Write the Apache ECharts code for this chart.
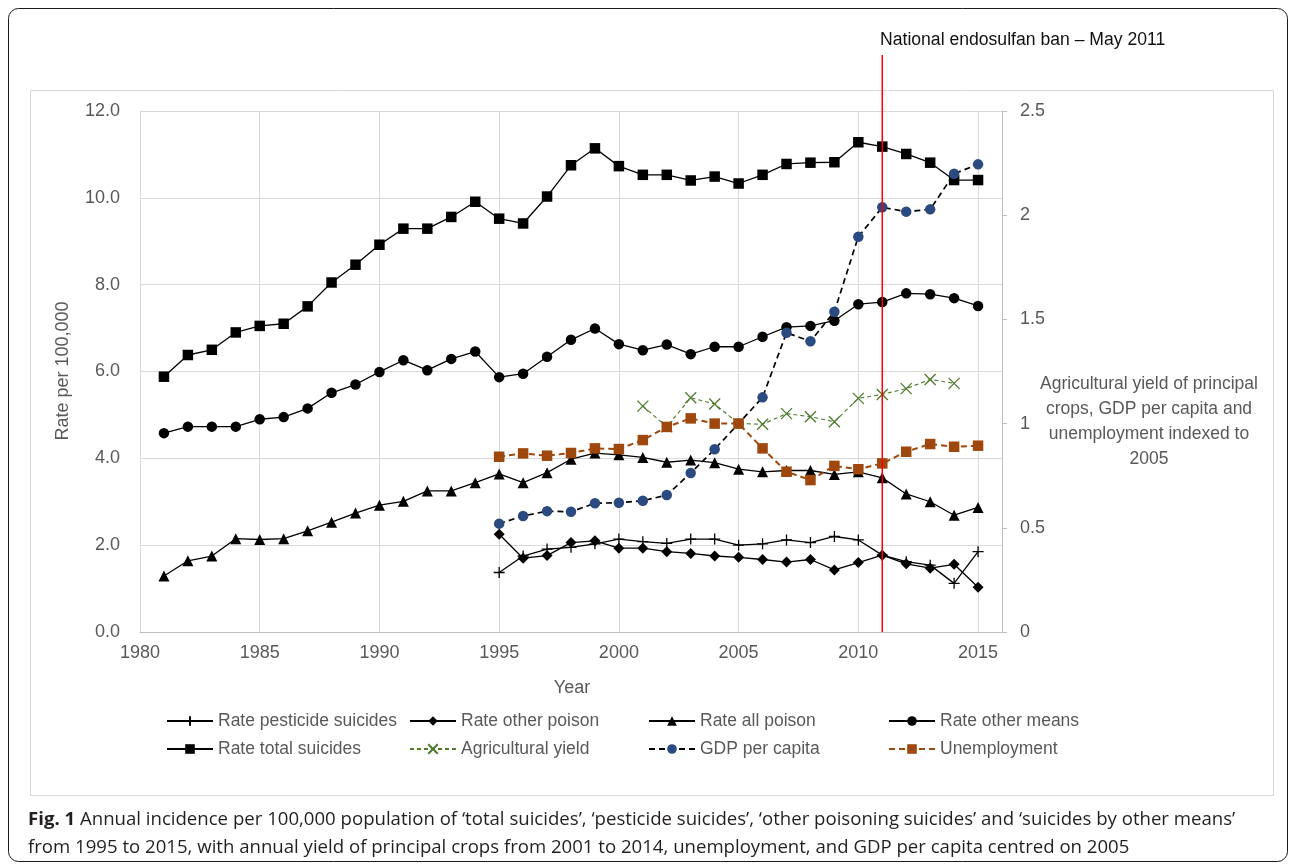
<!DOCTYPE html>
<html><head><meta charset="utf-8">
<script src="https://cdn.jsdelivr.net/npm/echarts@6/dist/echarts.min.js"></script>
<style>html,body{margin:0;padding:0;background:#fff}#c{width:1290px;height:864px}</style>
</head><body><div id="c"></div>
<script>
// ---------- data ----------
const yearsLong = [1981,1982,1983,1984,1985,1986,1987,1988,1989,1990,1991,1992,1993,1994,1995,1996,1997,1998,1999,2000,2001,2002,2003,2004,2005,2006,2007,2008,2009,2010,2011,2012,2013,2014,2015];
const yearsShort = [1995,1996,1997,1998,1999,2000,2001,2002,2003,2004,2005,2006,2007,2008,2009,2010,2011,2012,2013,2014,2015];
const yearsAgri = [2001,2002,2003,2004,2005,2006,2007,2008,2009,2010,2011,2012,2013,2014];

const rateTotal = [5.88,6.38,6.5,6.9,7.05,7.1,7.5,8.05,8.46,8.92,9.29,9.29,9.56,9.91,9.52,9.41,10.03,10.75,11.14,10.73,10.53,10.53,10.4,10.49,10.33,10.53,10.78,10.81,10.82,11.28,11.18,11.01,10.81,10.41,10.41];
const rateOtherMeans = [4.58,4.73,4.73,4.73,4.9,4.95,5.15,5.51,5.7,5.99,6.26,6.03,6.29,6.46,5.87,5.95,6.34,6.73,6.99,6.63,6.49,6.62,6.4,6.57,6.57,6.8,7.02,7.05,7.17,7.55,7.6,7.8,7.78,7.69,7.51];
const rateAllPoison = [1.29,1.64,1.75,2.15,2.13,2.15,2.33,2.53,2.74,2.92,3.01,3.25,3.25,3.44,3.64,3.44,3.67,3.98,4.12,4.08,4.02,3.91,3.96,3.9,3.75,3.69,3.72,3.72,3.63,3.69,3.55,3.18,3.0,2.69,2.87];
const ratePesticide = [1.37,1.75,1.91,1.95,2.03,2.14,2.08,2.04,2.14,2.14,2.0,2.03,2.12,2.06,2.2,2.12,1.77,1.62,1.54,1.12,1.85];
const rateOtherPoison = [2.25,1.7,1.76,2.06,2.1,1.93,1.93,1.85,1.81,1.75,1.72,1.67,1.61,1.67,1.43,1.6,1.77,1.57,1.47,1.56,1.03];
const gdpIndex = [0.52,0.557,0.58,0.577,0.618,0.62,0.63,0.657,0.763,0.877,1.0,1.126,1.436,1.395,1.537,1.897,2.038,2.017,2.028,2.199,2.244];
const unemploymentIndex = [0.841,0.857,0.846,0.859,0.881,0.878,0.921,0.984,1.025,1.0,1.0,0.881,0.769,0.729,0.797,0.781,0.809,0.865,0.902,0.889,0.894];
const agriYield = [1.084,0.985,1.124,1.094,1.0,0.997,1.048,1.033,1.009,1.121,1.14,1.168,1.212,1.193];
const banYear = 2011;

const seriesNames = ['Rate pesticide suicides','Rate other poison','Rate all poison','Rate other means','Rate total suicides','Agricultural yield','GDP per capita','Unemployment'];
const banLabel = 'National endosulfan ban \u2013 May 2011';
const leftTitle = 'Rate per 100,000';
const rightTitle = 'Agricultural yield of principal\ncrops, GDP per capita and\nunemployment indexed to\n2005';
const xTitle = 'Year';
const captionLine1 = 'Annual incidence per 100,000 population of \u2018total suicides\u2019, \u2018pesticide suicides\u2019, \u2018other poisoning suicides\u2019 and \u2018suicides by other means\u2019';
const captionLine2 = 'from 1995 to 2015, with annual yield of principal crops from 2001 to 2014, unemployment, and GDP per capita centred on 2005';

// ---------- build ----------
const zip = (xs, ys) => xs.map((x, i) => [x, ys[i]]);
const FONT = '"Liberation Sans", Arial, sans-serif';
const CAPFONT = '"Open Sans", sans-serif';
const GREY = '#595959';
const PLUS = 'path://M5,0L5,10M0,5L10,5';
const CROSS = 'path://M0,0L10,10M10,0L0,10';

function lineSeries(name, data, yIdx, opts) {
  return Object.assign({
    name, type: 'line', data, xAxisIndex: 0, yAxisIndex: yIdx,
    showAllSymbol: true, animation: false, z: 3,
    lineStyle: { color: '#000', width: 1.3 },
    itemStyle: { color: '#000' },
    emphasis: { disabled: true }
  }, opts);
}

const series = [
  lineSeries(seriesNames[0], zip(yearsShort, ratePesticide), 0, {
    symbol: PLUS, symbolSize: 11,
    itemStyle: { color: 'rgba(0,0,0,0)', borderColor: '#000', borderWidth: 1.3 }
  }),
  lineSeries(seriesNames[1], zip(yearsShort, rateOtherPoison), 0, { symbol: 'diamond', symbolSize: 11 }),
  lineSeries(seriesNames[2], zip(yearsLong, rateAllPoison), 0, { symbol: 'triangle', symbolSize: 11 }),
  lineSeries(seriesNames[3], zip(yearsLong, rateOtherMeans), 0, { symbol: 'circle', symbolSize: 10.5 }),
  lineSeries(seriesNames[4], zip(yearsLong, rateTotal), 0, { symbol: 'rect', symbolSize: 10.5 }),
  lineSeries(seriesNames[5], zip(yearsAgri, agriYield), 1, {
    symbol: CROSS, symbolSize: 11,
    lineStyle: { color: '#4f7a2c', width: 1.1, type: [4, 3] },
    itemStyle: { color: 'rgba(0,0,0,0)', borderColor: '#4f7a2c', borderWidth: 1.3 }
  }),
  lineSeries(seriesNames[6], zip(yearsShort, gdpIndex), 1, {
    symbol: 'circle', symbolSize: 10.5,
    lineStyle: { color: '#000', width: 1.7, type: [6, 4] },
    itemStyle: { color: '#2b4a7f' }
  }),
  lineSeries(seriesNames[7], zip(yearsShort, unemploymentIndex), 1, {
    symbol: 'rect', symbolSize: 10.5,
    lineStyle: { color: '#9e480e', width: 2, type: [6, 4] },
    itemStyle: { color: '#9e480e' }
  }),
  {
    name: 'ban', type: 'line', xAxisIndex: 1, yAxisIndex: 2,
    data: [[banYear, 0], [banYear, 1]], symbol: 'none', z: 10, animation: false,
    lineStyle: { color: '#ff0000', width: 1.5 }, emphasis: { disabled: true }
  }
];

function legend(left, names) {
  return {
    left, top: 707, orient: 'vertical', itemGap: 10, itemWidth: 46, itemHeight: 12,
    data: names, selectedMode: false,
    textStyle: { fontFamily: FONT, fontSize: 17.5, color: GREY }
  };
}

const option = {
  backgroundColor: '#fff',
  animation: false,
  grid: [
    { left: 140, right: 288, top: 111, bottom: 232, containLabel: false },
    { left: 140, right: 288, top: 55, bottom: 232, containLabel: false }
  ],
  xAxis: [
    {
      type: 'value', gridIndex: 0, min: 1980, max: 2016, interval: 5,
      axisLine: { show: true, lineStyle: { color: '#bfbfbf', width: 1 } },
      axisTick: { show: false },
      axisLabel: { color: GREY, fontSize: 18, fontFamily: FONT, margin: 12,
        formatter: v => (v % 5 === 0 ? String(v) : '') },
      splitLine: { show: true, lineStyle: { color: '#d9d9d9', width: 1 } }
    },
    { type: 'value', gridIndex: 1, min: 1980, max: 2016, show: false }
  ],
  yAxis: [
    {
      type: 'value', gridIndex: 0, min: 0, max: 12, interval: 2,
      axisLine: { show: false }, axisTick: { show: false },
      axisLabel: { color: GREY, fontSize: 18, fontFamily: FONT, margin: 20, formatter: v => v.toFixed(1) },
      splitLine: { show: true, lineStyle: { color: '#d9d9d9', width: 1 } }
    },
    {
      type: 'value', gridIndex: 0, position: 'right', min: 0, max: 2.5, interval: 0.5,
      axisLine: { show: true, onZero: false, lineStyle: { color: '#bfbfbf', width: 1 } },
      axisTick: { show: true, inside: false, length: 5, lineStyle: { color: '#bfbfbf' } },
      axisLabel: { color: GREY, fontSize: 18, fontFamily: FONT, margin: 18, formatter: v => String(v) },
      splitLine: { show: false }
    },
    { type: 'value', gridIndex: 1, min: 0, max: 1, show: false }
  ],
  legend: [
    legend(161, [seriesNames[0], seriesNames[4]]),
    legend(404, [seriesNames[1], seriesNames[5]]),
    legend(643, [seriesNames[2], seriesNames[6]]),
    legend(883, [seriesNames[3], seriesNames[7]])
  ],
  series,
  graphic: [
    { type: 'rect', z: -1, silent: true, shape: { x: 8.5, y: 8.5, width: 1279, height: 853, r: 10 },
      style: { fill: 'none', stroke: '#1a1a1a', lineWidth: 1 } },
    { type: 'rect', z: -1, silent: true, shape: { x: 30.5, y: 90.5, width: 1243, height: 705 },
      style: { fill: 'none', stroke: '#d9d9d9', lineWidth: 1 } },
    { type: 'text', x: 880, y: 40, silent: true,
      style: { text: banLabel, font: '17.6px ' + FONT, fill: '#111', align: 'left', verticalAlign: 'middle' } },
    { type: 'text', x: 63, y: 371, rotation: Math.PI / 2, silent: true,
      style: { text: leftTitle, font: '18px ' + FONT, fill: GREY, align: 'center', verticalAlign: 'middle' } },
    { type: 'text', x: 572, y: 688, silent: true,
      style: { text: xTitle, font: '18px ' + FONT, fill: GREY, align: 'center', verticalAlign: 'middle' } },
    { type: 'text', x: 1149, y: 422, silent: true,
      style: { text: rightTitle, font: '17.5px ' + FONT, fill: GREY, align: 'center', verticalAlign: 'middle', lineHeight: 25 } },
    { type: 'text', x: 28, y: 820, silent: true,
      style: { text: '{b|Fig. 1} ' + captionLine1, fill: '#231f20', verticalAlign: 'middle',
        font: '18.6px ' + CAPFONT,
        rich: { b: { fontWeight: 'bold', fontSize: 18.6, fontFamily: CAPFONT, fill: '#231f20' } } } },
    { type: 'text', x: 28, y: 848, silent: true,
      style: { text: captionLine2, fill: '#231f20', verticalAlign: 'middle', font: '18.6px ' + CAPFONT } }
  ]
};

const chart = echarts.init(document.getElementById('c'), null, { renderer: 'canvas' });
chart.setOption(option);
</script>
</body></html>
